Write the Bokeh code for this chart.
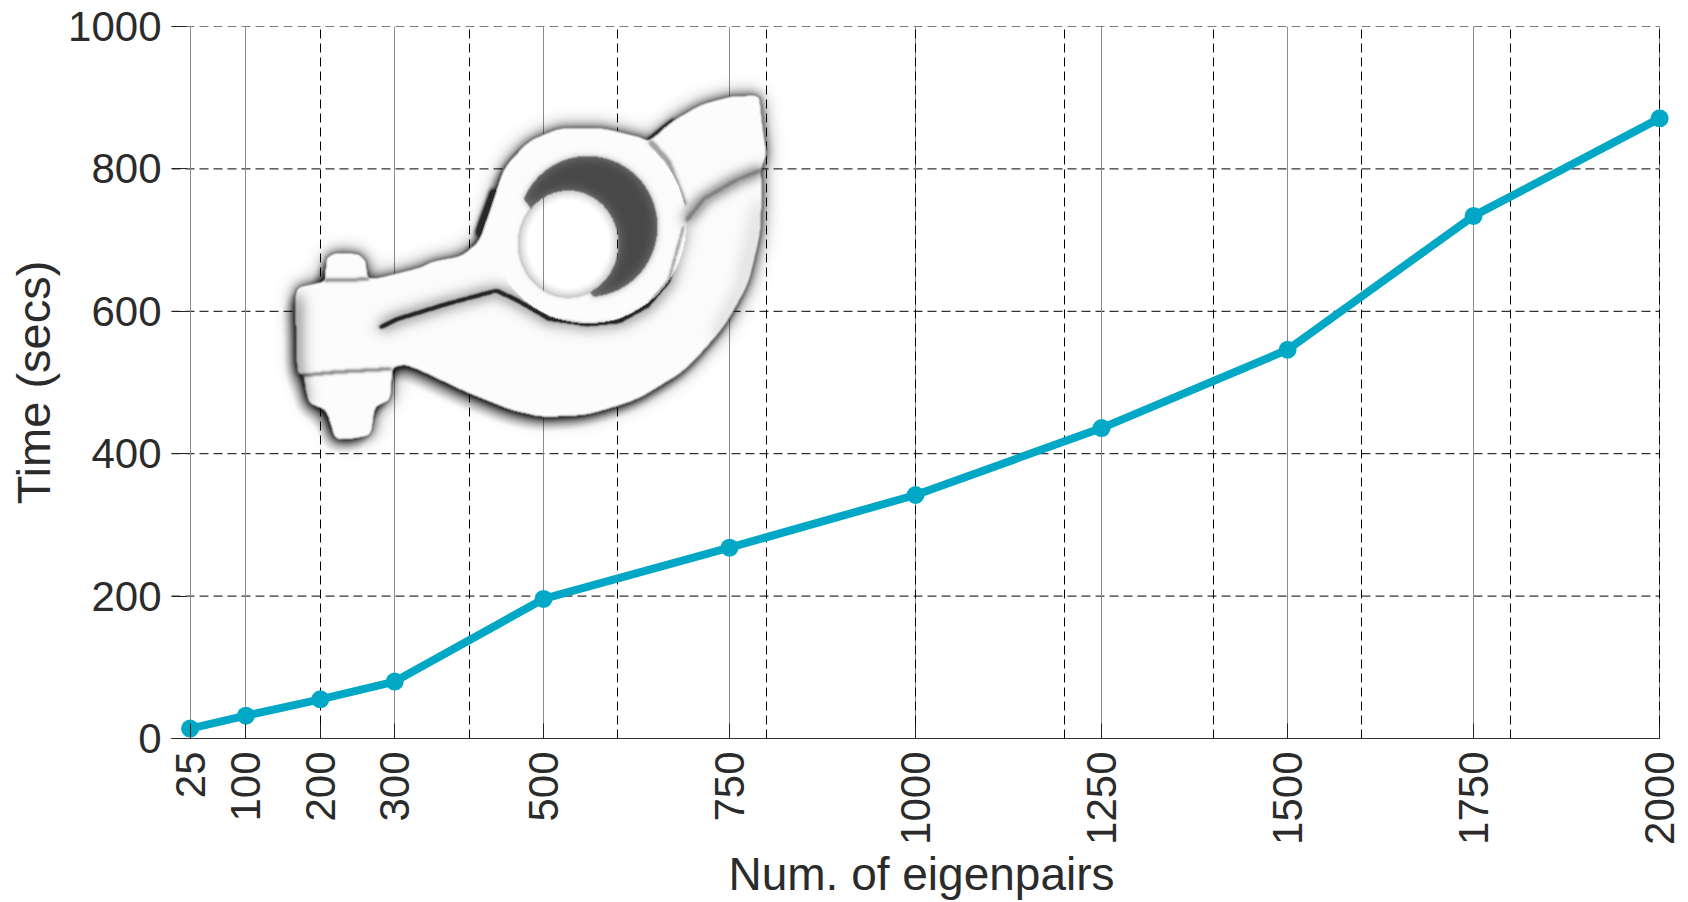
import numpy as np
from bokeh.plotting import figure
from bokeh.embed import file_html
from bokeh.resources import INLINE
from bokeh.models import Range1d, FixedTicker, Grid

eigenpairs = [25, 100, 200, 300, 500, 750, 1000, 1250, 1500, 1750, 2000]
seconds = [14, 32, 55, 80, 196, 268, 342, 436, 546, 734, 871]
x_tick_values = [25, 100, 200, 300, 500, 750, 1000, 1250, 1500, 1750, 2000]
y_tick_values = [0, 200, 400, 600, 800, 1000]
x_dashed_grid = [0, 200, 400, 600, 800, 1000, 1200, 1400, 1600, 1800, 2000]
x_solid_grid = [25, 100, 300, 500, 750, 1000, 1250, 1500, 1750, 2000]

FONT = "Liberation Sans"
TEXT = "#2b2b2b"
TEAL = "#00a8c6"
DASH = "9 5"

p = figure(width=1686, height=902, output_backend="svg", toolbar_location=None,
           x_range=Range1d(0, 2016), y_range=Range1d(0, 1000),
           min_border_left=171, min_border_right=15, min_border_top=26, min_border_bottom=164,
           x_axis_label="Num. of eigenpairs", y_axis_label="Time (secs)")
p.outline_line_color = None
p.background_fill_color = "white"
p.grid.visible = False

p.xaxis.ticker = FixedTicker(ticks=x_tick_values)
p.yaxis.ticker = FixedTicker(ticks=y_tick_values)
p.xaxis.major_label_orientation = np.pi / 2
for ax in (p.xaxis[0], p.yaxis[0]):
    ax.major_label_text_font = FONT
    ax.major_label_text_font_size = "42px"
    ax.major_label_text_color = TEXT
    ax.axis_label_text_font = FONT
    ax.axis_label_text_font_size = "47px"
    ax.axis_label_text_font_style = "normal"
    ax.axis_label_text_color = TEXT
    ax.major_tick_in = 15
    ax.major_tick_out = 0
    ax.major_tick_line_color = "#222222"
    ax.minor_tick_line_color = None
p.xaxis[0].axis_label_text_font_size = "46px"
p.xaxis[0].axis_label_text_line_height = 1.0
p.xaxis[0].bounds = (0, 2000)
p.xaxis[0].axis_line_color = "#333333"
p.yaxis[0].axis_line_color = None
p.xaxis[0].major_label_standoff = 13
p.yaxis[0].major_label_standoff = 10
p.xaxis[0].axis_label_standoff = 0
p.yaxis[0].axis_label_standoff = 5

g1 = Grid(dimension=0, ticker=FixedTicker(ticks=x_solid_grid), grid_line_color="#8c8c8c", grid_line_width=1)
g2 = Grid(dimension=0, ticker=FixedTicker(ticks=x_dashed_grid), grid_line_color="#000000",
          grid_line_width=1, grid_line_dash=DASH)
p.add_layout(g1)
p.add_layout(g2)
p.segment(x0=0, x1=2000, y0=y_tick_values, y1=y_tick_values, line_color="#000000",
          line_width=1, line_dash=DASH, level="underlay")

# --- inset illustration of the rocker arm, shaded as a small raster ---
outline_x = [1370,1450,1455,1462,1470,1455,1456,1455,1420,1350,1240,1100,960,830,740,620,480,440,412,405,400,355,345,300,240,215,165,155,150,130,125,130,145,210,212,215,240,310,330,335,480,520,600,650,680,720,790,880,1000,1100,1135,1200,1280,1370]
outline_y = [75,72,130,190,250,300,340,480,640,770,900,990,1035,1042,1020,970,900,885,890,900,990,1010,1095,1105,1110,1020,1000,960,915,910,680,655,645,632,600,560,545,548,570,628,590,570,555,510,420,290,210,170,170,195,210,150,100,75]

SX, SY = 2.851, 3.0                       # trace scale of the outline
PX0, PY0, NX, NY = 262, 72, 530, 400      # raster window in page pixels
PPX, PPY = 0.74405, 0.712                 # page pixels per data unit
OX, OY = 171, 738                         # page position of the data origin

px, py = np.meshgrid(np.arange(NX) + PX0 + 0.5, np.arange(NY) + PY0 + 0.5)
XX, YY = (px - 250) * SX, (py - 70) * SY

def chaikin(xs, ys, n=2):
    a = np.c_[xs, ys].astype(float)
    for _ in range(n):
        b = np.roll(a, -1, axis=0)
        a = np.stack([0.85 * a + 0.15 * b, 0.15 * a + 0.85 * b], axis=1).reshape(-1, 2)
    return a

def inside(poly):
    res = np.zeros(XX.shape, bool)
    x0, y0 = poly[:, 0], poly[:, 1]
    x1, y1 = np.roll(x0, -1), np.roll(y0, -1)
    for a, b, c, d in zip(x0, y0, x1, y1):
        if b == d:
            continue
        hit = ((b > YY) != (d > YY)) & (XX < (c - a) * (YY - b) / (d - b) + a)
        res ^= hit
    return res

def blur(img, s):
    r = int(3 * s) + 1
    k = np.exp(-0.5 * (np.arange(-r, r + 1) / s) ** 2)
    k /= k.sum()
    pad = np.pad(img, r, mode="edge")
    out = np.stack([np.convolve(row, k, "same") for row in pad])
    out = np.stack([np.convolve(col, k, "same") for col in out.T]).T
    return out[r:-r, r:-r]

def ellipse(cx, cy, rx, ry):
    return ((XX - cx) / rx) ** 2 + ((YY - cy) / ry) ** 2 <= 1

def stroke(xs, ys, s):
    img = np.zeros(XX.shape)
    for a, b, c, d in zip(xs[:-1], ys[:-1], xs[1:], ys[1:]):
        for t in np.linspace(0, 1, 200):
            i = int((70 + (b + (d - b) * t) / SY) - PY0)
            j = int((250 + (a + (c - a) * t) / SX) - PX0)
            if 0 <= i < NY and 0 <= j < NX:
                img[i, j] = 1.0
    return np.clip(blur(img, s) * s * 2.5, 0, 1)

outline = inside(chaikin(outline_x, outline_y))
small = ellipse(905, 520, 142, 160)
big = ellipse(960, 468, 198, 211)
wall = big & ~small & ((197 * (YY - 385) - 293 * (XX - 778)) < 0)
ring = ellipse(960, 462, 280, 297) & outline
body = (outline & ~small & ~wall).astype(float)
wallf = wall.astype(float)
solid = np.clip(body + wallf, 0, 1)
of = outline.astype(float)

# cast shadow around the whole part, deeper towards lower left
sh = blur(of, 5) * 0.6 + blur(of, 10) * 0.45
sh += np.clip(np.roll(blur(of, 8), (9, -7), axis=(0, 1)) - 0.25, 0, 1) * 0.55
sh += stroke([645, 665, 690], [490, 430, 360], 2.5) * 0.55
sh += stroke([1135, 1170, 1205], [212, 180, 150], 2) * 0.6
shadow = np.clip(sh, 0, 0.85)
inner = np.clip(blur(solid, 7) - 0.08, 0, 1) * 0.45   # soft shade inside the opening

# shading on the part itself
rim = np.clip(1 - blur(of, 1.6) * 1.1, 0, 1) * 1.3
cx1, cy1 = [370, 420, 560, 700, 760, 850, 960, 1050, 1130, 1190, 1232], [770, 745, 700, 660, 690, 745, 762, 752, 705, 630, 470]
shade = rim
shade = shade + (stroke(cx1, cy1, 1.4) * 0.55 + stroke(cx1, cy1, 7) * 0.22) * (~ring)
shade = shade + stroke(cx1, cy1, 1.2) * 0.3
shade = shade + stroke([1240, 1290, 1380, 1455], [450, 385, 330, 298], 6) * 0.28
shade = shade + stroke([1240, 1290, 1380, 1455], [450, 385, 330, 298], 1.5) * 0.2
shade = shade + stroke([1135, 1190, 1235], [210, 275, 400], 2) * 0.35 * (~ring)
shade = shade + stroke([150, 240, 400], [915, 905, 895], 1.5) * 0.4
shade = shade + stroke([215, 335], [630, 626], 1.5) * 0.4
shade = shade + stroke([133, 133, 150], [680, 900, 1000], 7) * 0.28
shade = shade + stroke([1450, 1400, 1330], [400, 660, 800], 8) * 0.08
shade = shade + blur(wallf, 3) * 0.35 + blur(small.astype(float), 1.5) * 0.4
gray = 252 * (1 - np.clip(shade, 0, 0.85))
wall_gray = 72 + 55 * (1 - blur(wallf, 6))

M = blur(body, 0.6)
W = blur(wallf, 0.6)
a = np.clip(M + W, 0, 1)
outside = np.where(outline, inner, shadow)
alpha = a + (1 - a) * outside
rgb = (M * gray + W * wall_gray) / np.maximum(alpha, 1e-3)
img = np.zeros((NY, NX, 4), dtype=np.uint8)
img[..., 0] = img[..., 1] = img[..., 2] = np.clip(rgb, 0, 255)
img[..., 3] = np.clip(alpha * 255, 0, 255)
img = np.flipud(img).copy().view(np.uint32).reshape(NY, NX)
p.image_rgba(image=[img], x=[(PX0 - OX) / PPX], y=[(OY - PY0 - NY) / PPY], dw=[NX / PPX], dh=[NY / PPY])

# --- data ---
p.line(eigenpairs, seconds, line_color=TEAL, line_width=8)
p.scatter(eigenpairs, seconds, size=18, fill_color=TEAL, line_color=None)

open("out.html", "w").write(file_html(p, INLINE))
